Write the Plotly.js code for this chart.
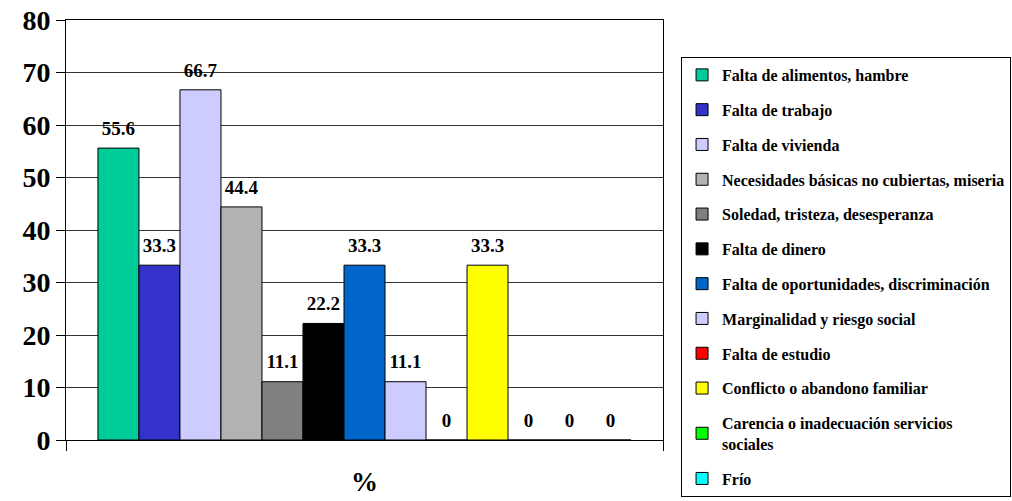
<!DOCTYPE html>
<html>
<head>
<meta charset="utf-8">
<script src="https://cdn.plot.ly/plotly-3.0.1.min.js"></script>
<style>html,body{margin:0;padding:0;background:#fff}#chart{width:1012px;height:501px}</style>
</head>
<body>
<div id="chart"></div>
<script>
var categories = ["%"];
var seriesNames = [
  "Falta de alimentos, hambre",
  "Falta de trabajo",
  "Falta de vivienda",
  "Necesidades básicas no cubiertas, miseria",
  "Soledad, tristeza, desesperanza",
  "Falta de dinero",
  "Falta de oportunidades, discriminación",
  "Marginalidad y riesgo social",
  "Falta de estudio",
  "Conflicto o abandono familiar",
  "Carencia o inadecuación servicios<br>sociales",
  "Frío",
  "Otros"
];
var seriesValues = [55.6, 33.3, 66.7, 44.4, 11.1, 22.2, 33.3, 11.1, 0, 33.3, 0, 0, 0];
var seriesColors = ["#00CC99", "#3333CC", "#CCCCFF", "#B2B2B2", "#808080", "#000000",
                    "#0066CC", "#CCCCFF", "#FF0000", "#FFFF00", "#00FF00", "#00FFFF", "#FF99CC"];
var yTicks = [0, 10, 20, 30, 40, 50, 60, 70, 80];

var FONT = "Liberation Serif";
var bars = seriesNames.map(function (name, i) {
  return {
    type: "bar",
    name: "<b>" + name + "</b>",
    x: categories,
    y: [seriesValues[i]],
    marker: {color: seriesColors[i], line: {color: "#000", width: 1}},
    legendgroup: "g" + i,
    showlegend: i < 12,
    hoverinfo: "skip"
  };
});
var labels = seriesNames.map(function (name, i) {
  return {
    type: "scatter",
    mode: "markers+text",
    x: categories,
    y: [seriesValues[i]],
    text: ["<b>" + String(seriesValues[i]) + "</b>"],
    textposition: "top center",
    textfont: {family: FONT, size: 19, color: "#000"},
    marker: {size: 12, opacity: 0, color: "#fff"},
    cliponaxis: false,
    showlegend: false,
    hoverinfo: "skip"
  };
});

var layout = {
  width: 1012, height: 501,
  margin: {l: 66, r: 349, t: 20, b: 61, autoexpand: false},
  paper_bgcolor: "#fff", plot_bgcolor: "#fff",
  barmode: "group",
  bargap: 0.107,
  bargroupgap: 0,
  scattermode: "group",
  scattergap: 0.107,
  font: {family: FONT, color: "#000"},
  showlegend: true,
  legend: {
    x: 1.583, xanchor: "right", y: 0.912, yanchor: "top",
    bordercolor: "#000", borderwidth: 1, bgcolor: "#fff",
    font: {family: FONT, size: 16, color: "#000"},
    tracegroupgap: 11, itemwidth: 30, traceorder: "grouped",
    maxheight: 470
  },
  xaxis: {
    type: "category",
    showline: true, linecolor: "#000", linewidth: 1, mirror: true,
    ticks: "outside", tickson: "boundaries", ticklen: 10, tickcolor: "#000",
    tickfont: {family: FONT, size: 27, color: "#000", weight: "bold"},
    ticklabelstandoff: 18,
    showgrid: false, zeroline: false, fixedrange: true
  },
  yaxis: {
    range: [0, 80], tickvals: yTicks, ticktext: yTicks.map(String),
    showline: true, linecolor: "#000", linewidth: 1, mirror: true,
    ticks: "outside", ticklen: 9, tickcolor: "#000",
    showgrid: true, gridcolor: "#333", gridwidth: 1,
    zeroline: false,
    tickfont: {family: FONT, size: 28, color: "#000", weight: "bold"},
    fixedrange: true
  }
};

Plotly.newPlot("chart", bars.concat(labels), layout, {displayModeBar: false, staticPlot: true});
</script>
</body>
</html>
